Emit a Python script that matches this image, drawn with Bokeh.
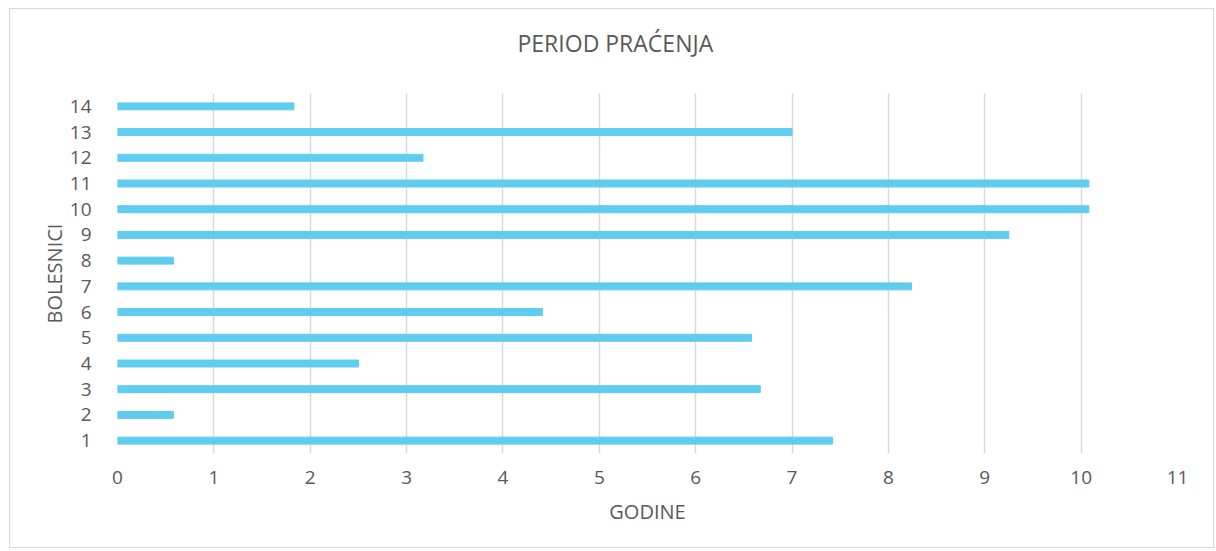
from bokeh.plotting import figure
from bokeh.models import ColumnDataSource, FixedTicker, Title
from bokeh.embed import file_html
from bokeh.resources import INLINE

patients = list(range(1, 15))
years = [7.42, 0.58, 6.67, 2.50, 6.58, 4.41, 8.24, 0.58, 9.25, 10.08, 10.08, 3.17, 7.00, 1.83]
x_ticks = list(range(0, 12))
chart_title = "PERIOD PRAĆENJA"

FONT = "Open Sans"
TXT = "#595959"

src = ColumnDataSource(dict(y=patients, right=years))

p = figure(width=1205, height=540, output_backend="svg", toolbar_location=None,
           x_range=(0, 11), y_range=(0.5, 14.5),
           min_border_left=107, min_border_right=38, min_border_top=84, min_border_bottom=96)
p.margin = (8, 0, 0, 9)
p.styles = {"border": "1px solid #d9d9d9"}
p.title = None

p.hbar(y="y", left=0, right="right", height=0.27, source=src, color="#5fccf0")

# spacer panel between frame and title, then the title itself
p.add_layout(Title(text=" ", text_font_size="2px", standoff=26), "above")
p.add_layout(Title(text=chart_title, align="left", text_font=FONT,
                   text_font_size="23px", text_color=TXT, text_font_style="normal",
                   standoff=10, offset=400), "above")

p.outline_line_color = None
p.xgrid.ticker = FixedTicker(ticks=x_ticks)
p.xgrid.grid_line_color = "#d9d9d9"
p.xgrid.grid_line_width = 1.5
p.ygrid.grid_line_color = None

p.xaxis.ticker = FixedTicker(ticks=x_ticks)
p.yaxis.ticker = FixedTicker(ticks=patients)
for ax in (p.xaxis[0], p.yaxis[0]):
    ax.axis_line_color = None
    ax.major_tick_line_color = None
    ax.minor_tick_line_color = None
    ax.major_label_text_font = FONT
    ax.major_label_text_font_size = "19px"
    ax.major_label_text_color = TXT
    ax.axis_label_text_font = FONT
    ax.axis_label_text_font_size = "20px"
    ax.axis_label_text_color = TXT
    ax.axis_label_text_font_style = "normal"

p.xaxis.axis_label = "GODINE"
p.yaxis.axis_label = "BOLESNICI"
p.xaxis.major_label_standoff = 11
p.xaxis.axis_label_standoff = 11
p.yaxis.major_label_standoff = 20
p.yaxis.axis_label_standoff = -1

open("out.html", "w").write(file_html(p, INLINE))
